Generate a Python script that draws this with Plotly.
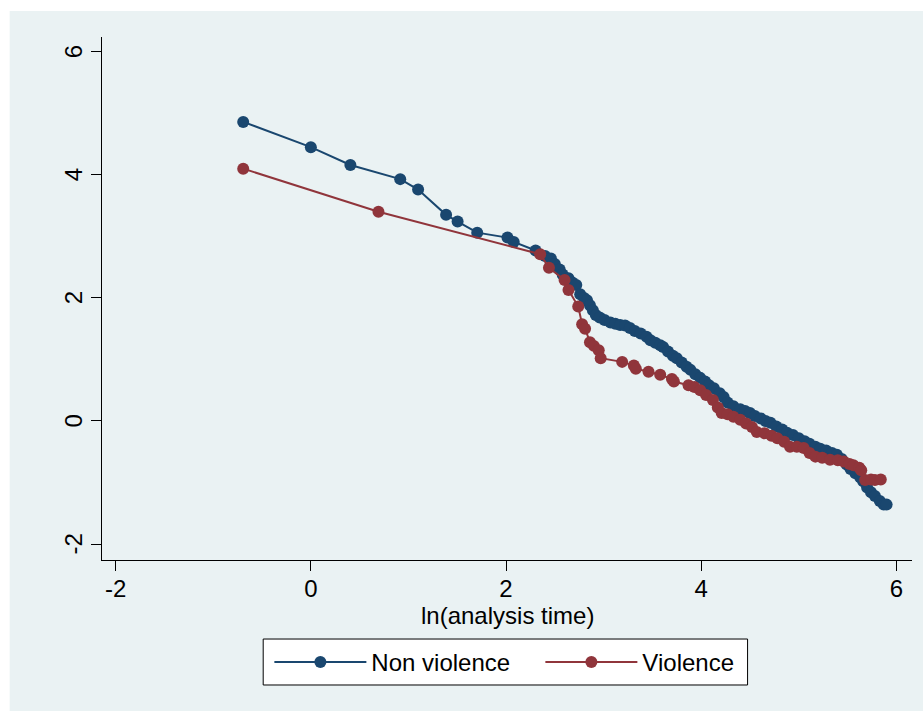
import plotly.graph_objects as go

# Non violence series: ln(analysis time) and -ln(-ln S)
nv_x = [-0.693, 0.0, 0.405, 0.916, 1.099, 1.386, 1.504, 1.705, 2.015, 2.079,
        2.303, 2.40, 2.46, 2.50, 2.55, 2.58, 2.64, 2.68, 2.72, 2.76,
        2.80, 2.83, 2.86, 2.89, 2.92, 2.96, 3.01, 3.07, 3.12, 3.17,
        3.22, 3.27, 3.32, 3.38, 3.44, 3.48, 3.53, 3.58, 3.61, 3.66,
        3.71, 3.75, 3.80, 3.85, 3.89, 3.94, 3.99, 4.04, 4.08, 4.13,
        4.19, 4.23, 4.27, 4.33, 4.40, 4.45, 4.50, 4.55, 4.61, 4.66,
        4.71, 4.77, 4.83, 4.88, 4.94, 5.00, 5.06, 5.11, 5.17, 5.22,
        5.28, 5.34, 5.39, 5.44, 5.49, 5.53, 5.58, 5.63, 5.66, 5.70,
        5.74, 5.78, 5.83, 5.87, 5.90]
nv_y = [4.86, 4.45, 4.16, 3.93, 3.76, 3.35, 3.24, 3.06, 2.98, 2.91,
        2.77, 2.68, 2.64, 2.55, 2.46, 2.38, 2.32, 2.25, 2.21, 2.06,
        2.00, 1.96, 1.88, 1.80, 1.72, 1.68, 1.64, 1.60, 1.58, 1.56,
        1.55, 1.51, 1.46, 1.42, 1.37, 1.31, 1.27, 1.23, 1.20, 1.13,
        1.06, 1.02, 0.95, 0.88, 0.83, 0.76, 0.70, 0.64, 0.58, 0.53,
        0.45, 0.39, 0.30, 0.24, 0.19, 0.16, 0.13, 0.08, 0.04, 0.00,
        -0.03, -0.09, -0.14, -0.19, -0.23, -0.28, -0.33, -0.37, -0.42, -0.45,
        -0.48, -0.52, -0.55, -0.62, -0.71, -0.78, -0.85, -0.92, -0.98, -1.08,
        -1.16, -1.22, -1.30, -1.36, -1.36]

# Violence series
v_x = [-0.693, 0.693, 2.35, 2.44, 2.60, 2.64, 2.74, 2.78, 2.81, 2.86,
       2.90, 2.95, 2.97, 3.19, 3.31, 3.33, 3.46, 3.58, 3.70, 3.72,
       3.87, 3.93, 3.99, 4.05, 4.12, 4.17, 4.21, 4.27, 4.33, 4.40,
       4.46, 4.52, 4.57, 4.65, 4.72, 4.78, 4.85, 4.91, 4.98, 5.05,
       5.11, 5.17, 5.24, 5.32, 5.40, 5.46, 5.52, 5.56, 5.62, 5.64,
       5.68, 5.74, 5.78, 5.84]
v_y = [4.10, 3.40, 2.71, 2.49, 2.29, 2.13, 1.86, 1.57, 1.50, 1.28,
       1.22, 1.15, 1.02, 0.96, 0.90, 0.85, 0.80, 0.75, 0.68, 0.64,
       0.58, 0.55, 0.50, 0.42, 0.34, 0.22, 0.13, 0.11, 0.07, 0.02,
       -0.04, -0.10, -0.18, -0.20, -0.24, -0.28, -0.34, -0.42, -0.42, -0.44,
       -0.52, -0.58, -0.60, -0.63, -0.64, -0.66, -0.70, -0.72, -0.76, -0.80,
       -0.96, -0.95, -0.96, -0.95]

x_ticks = [-2, 0, 2, 4, 6]
x_tick_labels = ["-2", "0", "2", "4", "6"]
y_ticks = [-2, 0, 2, 4, 6]
y_tick_labels = ["-2", "0", "2", "4", "6"]
series_names = ["Non violence", "Violence"]
x_title = "ln(analysis time)"

BLUE = "#1a476f"
RED = "#90353b"
BG = "#eaf2f3"
FONT = "Liberation Sans, Arial, sans-serif"
FS = 24

fig = go.Figure()
fig.add_trace(go.Scatter(x=nv_x, y=nv_y, mode="lines+markers", name=series_names[0],
                         line=dict(color=BLUE, width=2),
                         marker=dict(color=BLUE, size=12)))
fig.add_trace(go.Scatter(x=v_x, y=v_y, mode="lines+markers", name=series_names[1],
                         line=dict(color=RED, width=2),
                         marker=dict(color=RED, size=12)))

# outer light background region
fig.add_shape(type="rect", xref="paper", yref="paper",
              x0=-0.114, x1=1.03, y0=-0.31, y1=1.0497,
              fillcolor=BG, line=dict(width=0), layer="below")
# legend frame
fig.add_shape(type="rect", xref="paper", yref="paper",
              x0=0.1990, x1=0.7970, y0=-0.2390, y1=-0.1511,
              fillcolor="white", line=dict(color="black", width=1), layer="above")

fig.add_annotation(text=x_title, xref="paper", yref="paper", x=0.5, y=-0.1060,
                   xanchor="center", yanchor="middle", showarrow=False,
                   font=dict(size=FS, family=FONT, color="black"))

# rotated y tick labels (Stata style), placed on the y scale
for val, lab in zip(y_ticks, y_tick_labels):
    fig.add_annotation(text=lab, xref="paper", yref="y", x=-0.0352, y=val,
                       xanchor="center", yanchor="middle", showarrow=False,
                       textangle=-90, font=dict(size=FS, family=FONT, color="black"))

fig.update_layout(
    width=923, height=711,
    margin=dict(l=102, r=11, t=37, b=151),
    paper_bgcolor="white",
    plot_bgcolor="white",
    font=dict(family=FONT, size=FS, color="black"),
    showlegend=True,
    legend=dict(orientation="h", x=0.2054, xanchor="left", y=-0.151, yanchor="top",
                bgcolor="rgba(0,0,0,0)", bordercolor="rgba(0,0,0,0)", borderwidth=1,
                font=dict(size=FS, family=FONT), itemwidth=92,
                entrywidth=164),
    xaxis=dict(range=[-2.14, 6.16], tickvals=x_ticks, ticktext=x_tick_labels,
               ticks="outside", ticklen=10,
               tickcolor="black", showline=True, linecolor="black", linewidth=1,
               showgrid=False, zeroline=False, tickfont=dict(size=FS),
               ticklabelstandoff=-3),
    yaxis=dict(range=[-2.26, 6.24], tickvals=y_ticks, showticklabels=False,
               ticks="outside", ticklen=10,
               tickcolor="black", showline=True, linecolor="black", linewidth=1,
               showgrid=True, gridcolor=BG, gridwidth=1.5, zeroline=False),
)

fig.write_html("out.html", config={"displayModeBar": False},
               post_script="document.body.style.margin='0';document.body.style.overflow='hidden';")
